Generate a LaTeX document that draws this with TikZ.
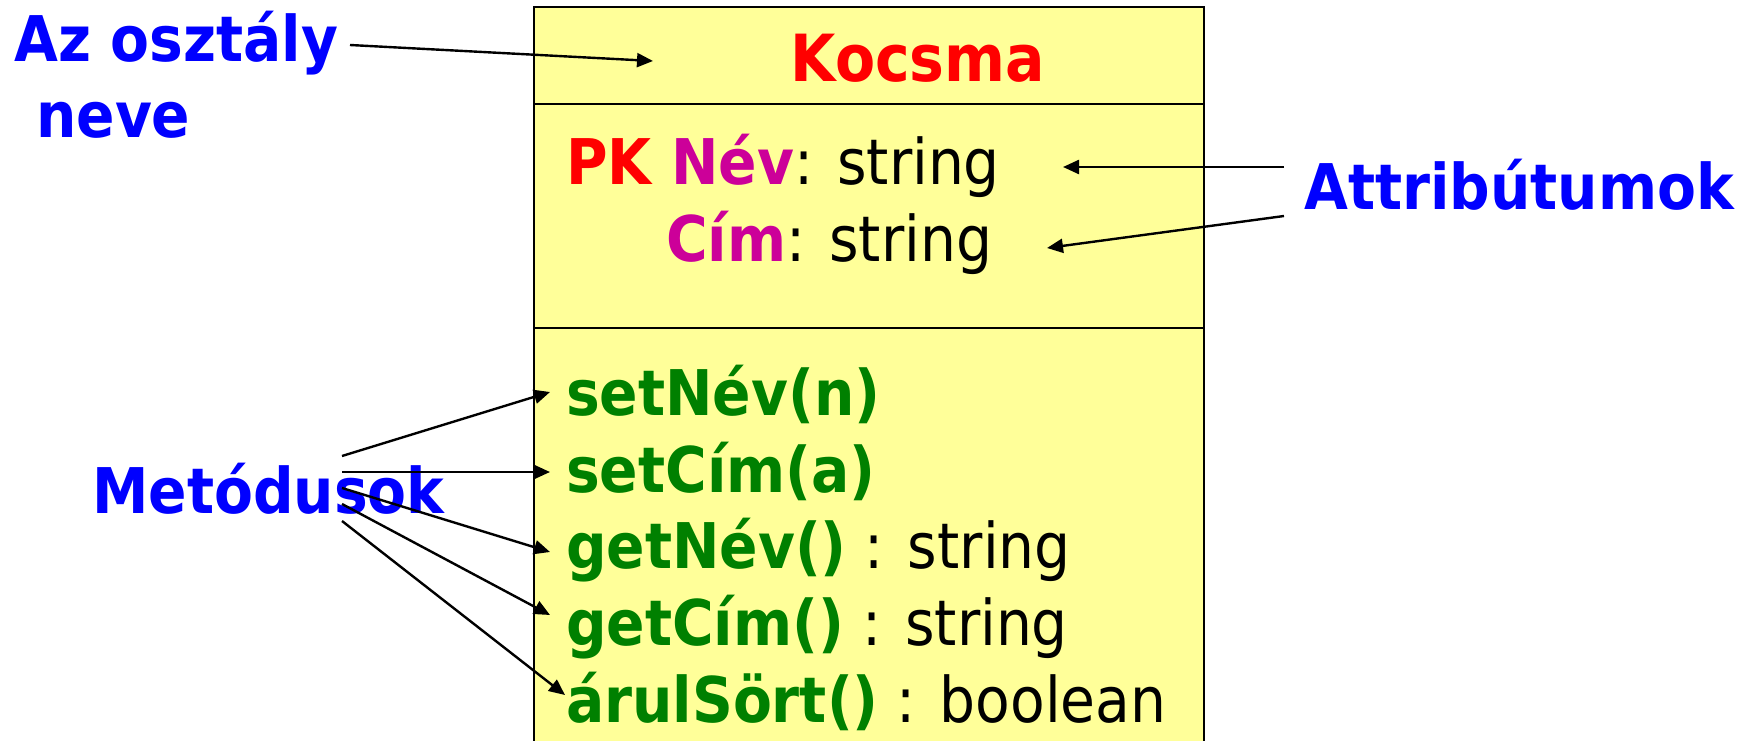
\documentclass[tikz,border=0pt]{standalone}
\usepackage{fontspec}
\setmainfont{DejaVu Sans Condensed}
\usetikzlibrary{arrows.meta}
\definecolor{boxfill}{HTML}{FFFF99}
\definecolor{pkred}{HTML}{FF0000}
\definecolor{attrmag}{HTML}{CC0099}
\definecolor{methgreen}{HTML}{008000}
\definecolor{lblblue}{HTML}{0000FF}
\begin{document}
\begin{tikzpicture}[x=1pt,y=-1pt,
  txt/.style={inner sep=0pt,anchor=base west,font=\fontsize{63}{70}\selectfont},
  lbl/.style={txt,text=lblblue,font=\fontsize{63}{70}\selectfont\bfseries},
  ptr/.style={line width=2.4pt,-{Triangle[length=16pt,width=14pt]}},
  frame/.style={line width=2.5pt}]
\useasboundingbox (0,0) rectangle (1758,741);
% class box
\fill[boxfill] (534,7) rectangle (1204,741);
\draw[frame] (534,741) -- (534,7) -- (1204,7) -- (1204,741);
\draw[line width=2pt] (534,104) -- (1204,104);
\draw[line width=2pt] (534,328) -- (1204,328);
% texts
\node[txt,anchor=base,text=pkred,font=\fontsize{65}{70}\selectfont\bfseries] (name) at (918,82) {Kocsma};
\node[txt] (a1) at (566,184) {\textbf{\color{pkred}PK \color{attrmag}Név}: string};
\node[txt] (a2) at (666,261) {\textbf{\color{attrmag}Cím}: string};
\node[txt,text=methgreen] (m1) at (566,415) {\textbf{setNév(n)}};
\node[txt,text=methgreen] (m2) at (566,492) {\textbf{setCím(a)}};
\node[txt,text=methgreen] (m3) at (566,568) {\textbf{getNév()} {\color{black}: string}};
\node[txt,text=methgreen] (m4) at (566,645) {\textbf{getCím()} {\color{black}: string}};
\node[txt,text=methgreen] (m5) at (566,722) {\textbf{árulSört()} {\color{black}: boolean}};
% labels
\node[lbl] (cn1) at (14,62) {Az osztály};
\node[lbl] (cn2) at (36,138) {neve};
\node[lbl] (attr) at (1304,209) {Attribútumok};
\node[lbl] (meth) at (92,513) {Metódusok};
% connector endpoints
\coordinate (cnS) at (350,45);   \coordinate (cnT) at (653,61);
\coordinate (atS1) at (1284,167); \coordinate (atT1) at (1063,167);
\coordinate (atS2) at (1284,216); \coordinate (atT2) at (1047,248);
\coordinate (mS1) at (342,456); \coordinate (mT1) at (550,392);
\coordinate (mS2) at (342,472); \coordinate (mT2) at (550,472);
\coordinate (mS3) at (342,488); \coordinate (mT3) at (550,552);
\coordinate (mS4) at (342,504); \coordinate (mT4) at (550,615);
\coordinate (mS5) at (342,521); \coordinate (mT5) at (565,695);
% connectors
\draw[ptr] (cnS) -- (cnT);
\draw[ptr] (atS1) -- (atT1);
\draw[ptr] (atS2) -- (atT2);
\draw[ptr] (mS1) -- (mT1);
\draw[ptr] (mS2) -- (mT2);
\draw[ptr] (mS3) -- (mT3);
\draw[ptr] (mS4) -- (mT4);
\draw[ptr] (mS5) -- (mT5);
\end{tikzpicture}
\end{document}
